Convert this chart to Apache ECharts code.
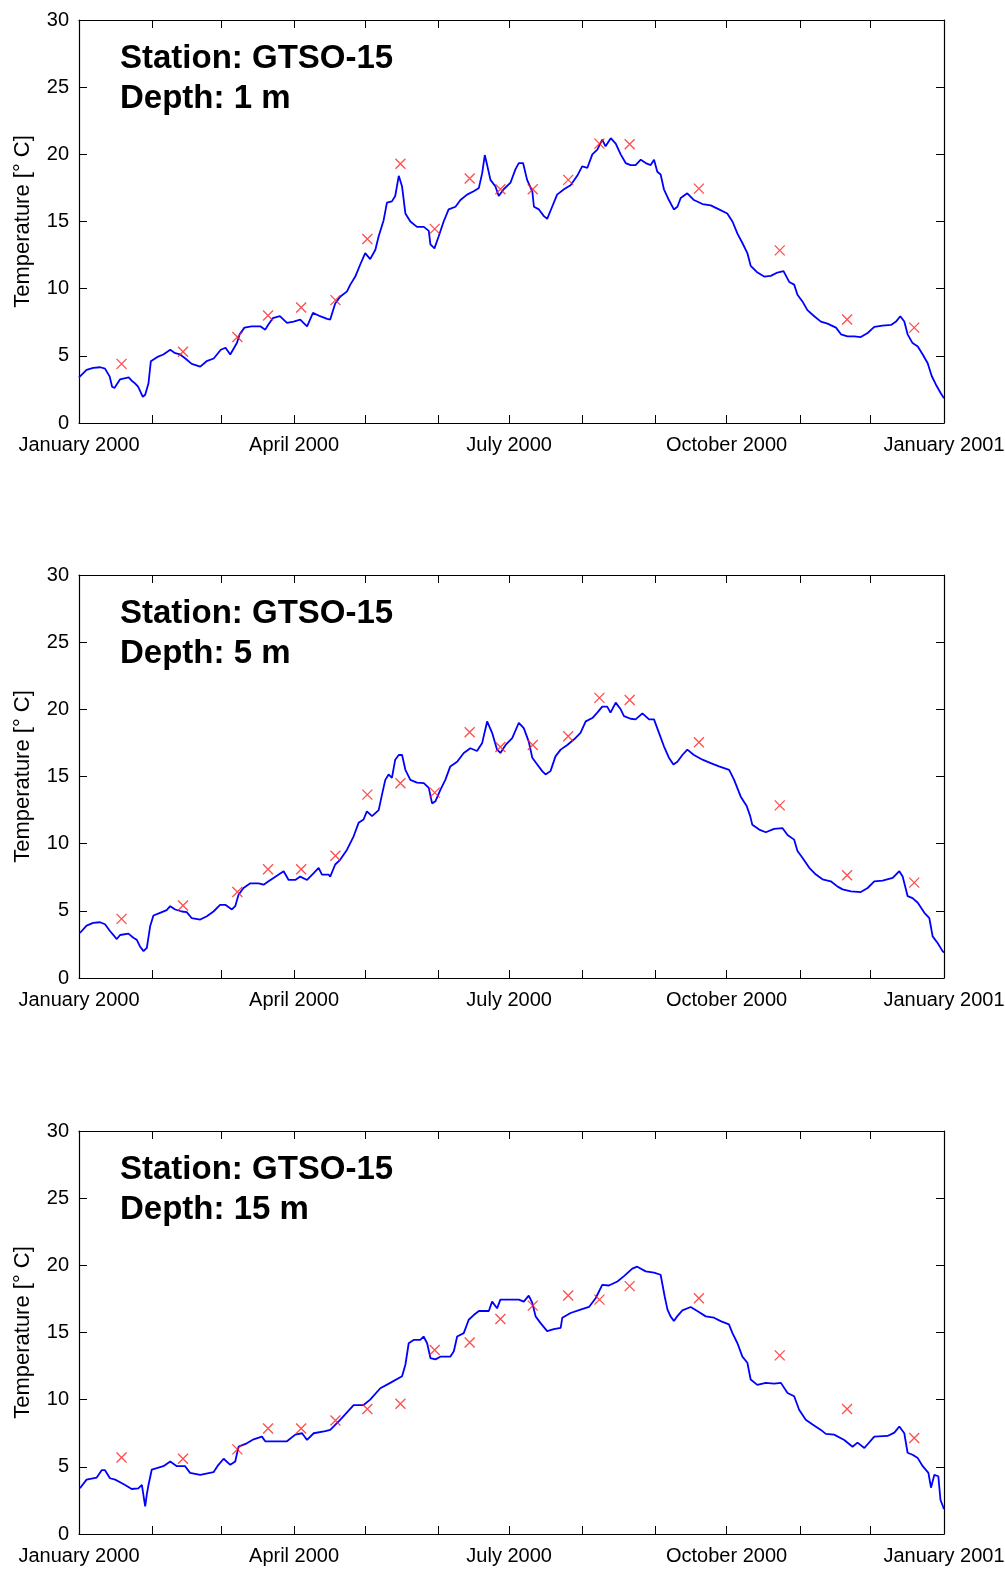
<!DOCTYPE html>
<html>
<head>
<meta charset="utf-8">
<title>GTSO-15 water temperature 2000</title>
<script src="https://cdn.jsdelivr.net/npm/echarts@6/dist/echarts.min.js"></script>
<style>
  html, body { margin: 0; padding: 0; background: #ffffff; }
  #chart { width: 1005px; height: 1569px; }
</style>
</head>
<body>
<div id="chart"></div>
<script>
// Day of year 2000 (0 = 1 January 2000, 366 = 1 January 2001)
const monthStarts = [0, 31, 60, 91, 121, 152, 182, 213, 244, 274, 305, 335, 366];
const labelDays = [0, 91, 182, 274, 366];
const labelTexts = ['January 2000', 'April 2000', 'July 2000', 'October 2000', 'January 2001'];

const stationName = 'GTSO-15';
const depthLabels = ['1 m', '5 m', '15 m'];

// Continuous logger record, [day of year, temperature °C]
const logger1m = [
  [0,3.4],[3.2,3.95],[6,4.1],[9,4.15],[11,4.05],[13,3.45],[14,2.7],[15,2.6],[17.4,3.25],[21,3.4],
  [22.3,3.15],[23.7,2.95],[25,2.7],[27,1.95],[28,2.1],[29.4,2.95],[30.4,4.6],[33,4.9],[35.7,5.1],[38.6,5.45],
  [40.7,5.2],[42.8,5.1],[45,4.8],[47.7,4.4],[51.3,4.2],[54,4.6],[57,4.8],[60,5.45],[62,5.6],[64,5.1],
  [66.8,5.95],[68,6.6],[70,7.1],[73,7.2],[76.7,7.2],[78.8,6.95],[80,7.3],[82,7.8],[85,7.95],[88,7.45],
  [90.8,7.55],[93.6,7.7],[96.5,7.2],[99,8.2],[102,7.95],[105,7.75],[106.3,7.7],[108.4,8.9],[110.5,9.4],[113.4,9.8],
  [114.8,10.3],[116.9,10.9],[119,11.8],[121.1,12.65],[123.2,12.2],[125.4,12.9],[126.8,13.9],[128.9,15.1],[130.3,16.4],[132.4,16.5],
  [133.8,16.9],[135.3,18.4],[136.7,17.6],[138.1,15.6],[140.2,15.0],[143,14.6],[145.9,14.6],[148,14.3],[148.7,13.3],[150.4,13.0],
  [152.2,13.9],[154.3,15.0],[156.4,15.9],[159.3,16.1],[161.4,16.6],[164.2,17.0],[167,17.25],[169.2,17.5],[170.6,18.6],[171.7,19.95],
  [172.7,19.2],[174.1,18.1],[176.2,17.6],[177.6,16.9],[179.7,17.4],[182.6,17.9],[184.7,18.9],[186.1,19.35],[187.9,19.35],[189.6,18.1],
  [191.8,17.25],[192.5,16.1],[194.6,15.9],[196.7,15.4],[198.1,15.2],[200.2,16.1],[202.3,17.0],[205.2,17.4],[208,17.7],[210.8,18.4],
  [212.9,19.1],[215.1,19.0],[217.2,20.0],[219.3,20.35],[221.4,21.1],[222.8,20.6],[225,21.2],[227.1,20.8],[229.2,20.0],[231.3,19.35],
  [233.4,19.2],[235.5,19.2],[237.7,19.6],[239.8,19.35],[241.9,19.2],[243.3,19.6],[244.7,18.7],[246.1,18.5],[247.5,17.4],[249.6,16.6],
  [251.7,15.9],[253.2,16.1],[254.6,16.75],[257.4,17.1],[260.2,16.6],[263.8,16.3],[267.3,16.2],[270.8,15.9],[274.3,15.6],[276.5,15.0],
  [278.6,14.1],[280.7,13.4],[282.8,12.65],[284.2,11.7],[287.1,11.2],[289.9,10.9],[292.7,10.95],[295.5,11.2],[298.1,11.3],[300.5,10.5],
  [302.6,10.3],[304,9.55],[306.1,9.05],[308.2,8.4],[311.1,7.95],[313.9,7.55],[316.7,7.4],[320.3,7.1],[322.4,6.6],[325.2,6.45],
  [328,6.45],[330.8,6.4],[333.7,6.7],[336.5,7.15],[340,7.25],[343.6,7.3],[345.7,7.55],[347.5,7.95],[349.2,7.55],[350.6,6.6],
  [352.7,5.95],[354.9,5.7],[357,5.1],[359.1,4.45],[360.8,3.5],[362.6,2.85],[364.7,2.2],[366,1.85]
];
const logger5m = [
  [0.4,3.35],[3.2,3.9],[6,4.1],[8.9,4.15],[11,4.0],[13.1,3.5],[16,2.9],[17.4,3.2],[20.9,3.3],[23,3.0],
  [24.4,2.85],[25.8,2.35],[27.3,2.0],[28.7,2.25],[30.1,3.85],[31.5,4.65],[34.3,4.85],[37.1,5.05],[38.6,5.35],[40.7,5.1],
  [43.5,4.95],[45.6,4.9],[47.7,4.45],[51.3,4.35],[54.1,4.6],[56.9,4.95],[59.7,5.45],[61.9,5.45],[64.7,5.1],[66.1,5.35],
  [67.5,6.2],[69.6,6.7],[72.5,7.05],[76,7.05],[78.1,6.95],[80.2,7.2],[82.3,7.45],[84.5,7.7],[86.6,7.95],[88.7,7.3],
  [91.5,7.3],[93.6,7.55],[96.5,7.3],[99.3,7.8],[101.4,8.2],[102.8,7.7],[105.6,7.7],[106.3,7.55],[108.4,8.45],[110.5,8.8],
  [113.4,9.55],[116.2,10.55],[118.3,11.55],[120.4,11.8],[121.8,12.4],[124,12.05],[126.8,12.5],[128.2,13.65],[129.6,14.75],[131,15.15],
  [132.4,14.9],[133.8,16.25],[135.3,16.6],[136.7,16.6],[138.1,15.5],[140.2,14.75],[143,14.55],[145.9,14.5],[148,14.15],[149.4,13.0],
  [150.8,13.15],[152.9,14.0],[155,14.75],[157.1,15.75],[160,16.1],[162.8,16.75],[165.6,17.1],[168.4,16.9],[170.6,17.5],[172.7,19.1],
  [174.8,18.25],[176.9,17.0],[178.3,16.75],[180.5,17.35],[183.3,17.85],[186.1,19.0],[188.2,18.6],[190.3,17.6],[191.8,16.4],[193.9,15.9],
  [196,15.4],[197.4,15.15],[199.5,15.4],[201.6,16.5],[203.8,17.0],[206.6,17.35],[209.4,17.75],[212.2,18.25],[214.4,19.1],[217.2,19.35],
  [219.3,19.75],[221.4,20.2],[223.5,20.2],[224.9,19.75],[227.1,20.5],[229.2,20.0],[230.6,19.5],[233.4,19.3],[235.5,19.25],[238.4,19.7],
  [241.2,19.25],[243.3,19.25],[245.4,18.25],[246.1,18.35],[247.5,17.25],[249.6,16.4],[251.5,15.9],[253.2,16.1],[255.3,16.6],[257.4,17.0],
  [260.2,16.6],[263.8,16.25],[267.3,16.0],[270.8,15.75],[275.1,15.5],[277.2,14.75],[280,13.5],[282.5,12.8],[284,12.05],[284.9,11.4],
  [287.8,11.05],[290.6,10.85],[294.1,11.1],[297.7,11.15],[299.8,10.65],[302.6,10.3],[304,9.45],[306.1,8.95],[309,8.2],[311.8,7.7],
  [314.6,7.35],[318.1,7.2],[321,6.8],[323.1,6.6],[326.6,6.45],[330.8,6.4],[333.7,6.7],[336.5,7.2],[340,7.25],[344.3,7.45],
  [347.1,7.95],[348.5,7.55],[350.6,6.1],[352.7,5.95],[354.9,5.6],[357.7,4.85],[359.8,4.45],[361.2,3.1],[363.3,2.6],[365.4,2.0],
  [366,1.9]
];
const logger15m = [
  [0.4,3.4],[3.2,4.05],[7.5,4.2],[9.6,4.75],[11,4.75],[13.1,4.15],[15.3,4.05],[17.4,3.85],[19.5,3.65],[22.3,3.35],
  [25.1,3.4],[26.6,3.65],[27.3,3.55],[28,2.05],[28.7,2.95],[29.4,3.65],[30.8,4.8],[32.9,4.9],[35.7,5.05],[38.6,5.4],
  [41.4,5.05],[44.9,5.05],[47,4.55],[51.3,4.4],[56.9,4.6],[59,5.15],[61.2,5.6],[64,5.15],[66.1,5.4],[67.5,6.5],
  [71,6.75],[73.9,7.05],[77.4,7.25],[78.8,6.9],[83.8,6.9],[88,6.9],[91.5,7.4],[94.4,7.5],[96.5,7.0],[99.3,7.5],
  [104.2,7.65],[106.3,7.75],[110.5,8.5],[116.2,9.6],[120.4,9.6],[123.2,10.0],[127.5,10.85],[131.7,11.25],[136.7,11.75],[138.1,12.6],
  [139.5,14.2],[141.6,14.45],[144.4,14.45],[145.8,14.7],[147.3,14.2],[148.7,13.1],[150.8,13.0],[152.9,13.2],[157.1,13.2],[158.6,13.6],
  [160,14.7],[162.8,14.95],[164.9,15.95],[167,16.3],[169.2,16.6],[173.4,16.6],[174.8,17.3],[176.9,16.8],[178.3,17.45],[179.7,17.45],
  [183.3,17.45],[186.1,17.45],[188.2,17.3],[190.3,17.75],[191.8,17.2],[193.2,16.2],[195.3,15.7],[198.1,15.1],[200.9,15.25],[203.8,15.35],
  [204.5,16.1],[208,16.45],[212.2,16.7],[215.8,16.9],[218.6,17.55],[221.4,18.55],[224.2,18.5],[227.8,18.8],[230.6,19.2],[234.1,19.75],
  [236.2,19.9],[239.8,19.55],[243.3,19.45],[246.1,19.3],[247.8,17.7],[249,16.7],[250.3,16.2],[251.7,15.85],[253.1,16.2],[255.3,16.65],
  [258.8,16.9],[261.6,16.6],[265.2,16.2],[268.7,16.1],[271.5,15.85],[275,15.6],[276.5,14.95],[278.6,14.2],[280.7,13.2],[282.8,12.75],
  [284.2,11.5],[287,11.1],[290.6,11.25],[294.1,11.2],[297,11.25],[299.8,10.5],[302.6,10.25],[304.7,9.25],[307.5,8.5],[310.4,8.15],
  [313.9,7.75],[316,7.45],[319.5,7.4],[323.8,7.0],[327.3,6.5],[329.4,6.8],[332.3,6.4],[336.5,7.25],[342.1,7.3],[345,7.55],
  [347.1,8.0],[349.2,7.5],[350.6,6.05],[352.7,5.9],[354.9,5.65],[357,5.05],[359.4,4.55],[360.5,3.45],[361.9,4.4],[363.6,4.3],
  [364.5,2.55],[366,1.85]
];

// Discrete sampling days (day of year) and the sampled temperatures at each depth
const sampleDays = [18, 44, 67, 80, 94, 108.5, 122, 136, 150.5, 165.3, 178.3, 192, 207, 220.2, 233, 262.3, 296.5, 325, 353.4];
const samples1m  = [4.4, 5.3, 6.4, 8.0, 8.6, 9.15, 13.7, 19.3, 14.45, 18.2, 17.4, 17.4, 18.1, 20.8, 20.75, 17.45, 12.85, 7.7, 7.1];
const samples5m  = [4.4, 5.4, 6.4, 8.1, 8.1, 9.1, 13.65, 14.5, 13.8, 18.3, 17.2, 17.35, 18.0, 20.85, 20.7, 17.55, 12.85, 7.65, 7.1];
const samples15m = [5.7, 5.6, 6.3, 7.85, 7.85, 8.45, 9.3, 9.7, 13.7, 14.25, 16.0, 17.0, 17.75, 17.45, 18.45, 17.55, 13.3, 9.3, 7.15];

const yTicks = { min: 0, max: 30, interval: 5 };
const yAxisTitle = 'Temperature [° C]';

const loggers = [logger1m, logger5m, logger15m];
const samples = [samples1m, samples5m, samples15m];

const FONT = 'Liberation Sans';
const panelTops = [20, 575, 1131];
const panelHeight = 403;
const panelLeft = 79;
const panelWidth = 865;

const grid = [], xAxis = [], yAxis = [], series = [], title = [];

panelTops.forEach((top, i) => {
  // fixed plot box; labels may run to the page edge
  grid.push({ left: panelLeft, top: top, width: panelWidth, height: panelHeight, containLabel: false, outerBoundsMode: 'none' });

  const tickStyle = { show: true, inside: true, length: 8, customValues: monthStarts, lineStyle: { color: '#000', width: 1 } };
  const lineStyle = { show: true, onZero: false, lineStyle: { color: '#000', width: 1.2 } };

  // bottom time axis with labels
  xAxis.push({
    type: 'value', gridIndex: i, position: 'bottom', min: 0, max: 366,
    axisLine: lineStyle, axisTick: tickStyle, splitLine: { show: false },
    axisLabel: {
      customValues: labelDays,
      formatter: v => labelTexts[labelDays.indexOf(v)] || '',
      color: '#000', fontFamily: FONT, fontSize: 20, margin: 12
    }
  });
  // top mirror axis, ticks only
  xAxis.push({
    type: 'value', gridIndex: i, position: 'top', min: 0, max: 366,
    axisLine: lineStyle, axisTick: tickStyle, splitLine: { show: false },
    axisLabel: { show: false }
  });

  const yTick = { show: true, inside: true, length: 8, lineStyle: { color: '#000', width: 1 } };
  yAxis.push({
    type: 'value', gridIndex: i, position: 'left',
    min: yTicks.min, max: yTicks.max, interval: yTicks.interval,
    axisLine: lineStyle, axisTick: yTick, splitLine: { show: false },
    axisLabel: { color: '#000', fontFamily: FONT, fontSize: 20, margin: 10 },
    name: yAxisTitle, nameLocation: 'middle', nameGap: 45,
    nameTextStyle: { color: '#000', fontFamily: FONT, fontSize: 22 }
  });
  yAxis.push({
    type: 'value', gridIndex: i, position: 'right',
    min: yTicks.min, max: yTicks.max, interval: yTicks.interval,
    axisLine: lineStyle, axisTick: yTick, splitLine: { show: false },
    axisLabel: { show: false }
  });

  series.push({
    type: 'line', xAxisIndex: 2 * i, yAxisIndex: 2 * i,
    data: loggers[i], showSymbol: false, symbol: 'none',
    lineStyle: { color: '#0000ff', width: 1.8 },
    z: 2
  });
  series.push({
    type: 'scatter', xAxisIndex: 2 * i, yAxisIndex: 2 * i,
    data: sampleDays.map((d, k) => [d, samples[i][k]]),
    symbol: 'path://M0,0L10,10M10,0L0,10', symbolSize: 10,
    itemStyle: { color: 'rgba(0,0,0,0)', borderColor: '#ff2020', borderWidth: 1.3 },
    z: 3
  });

  title.push({
    text: 'Station: ' + stationName + '\nDepth: ' + depthLabels[i],
    left: 120, top: top + 19, padding: 0,
    textStyle: { color: '#000', fontFamily: FONT, fontWeight: 'bold', fontSize: 33, lineHeight: 40 }
  });
});

const chart = echarts.init(document.getElementById('chart'), null, { renderer: 'canvas' });
chart.setOption({
  animation: false,
  backgroundColor: '#ffffff',
  title: title,
  grid: grid,
  xAxis: xAxis,
  yAxis: yAxis,
  series: series
});
</script>
</body>
</html>
